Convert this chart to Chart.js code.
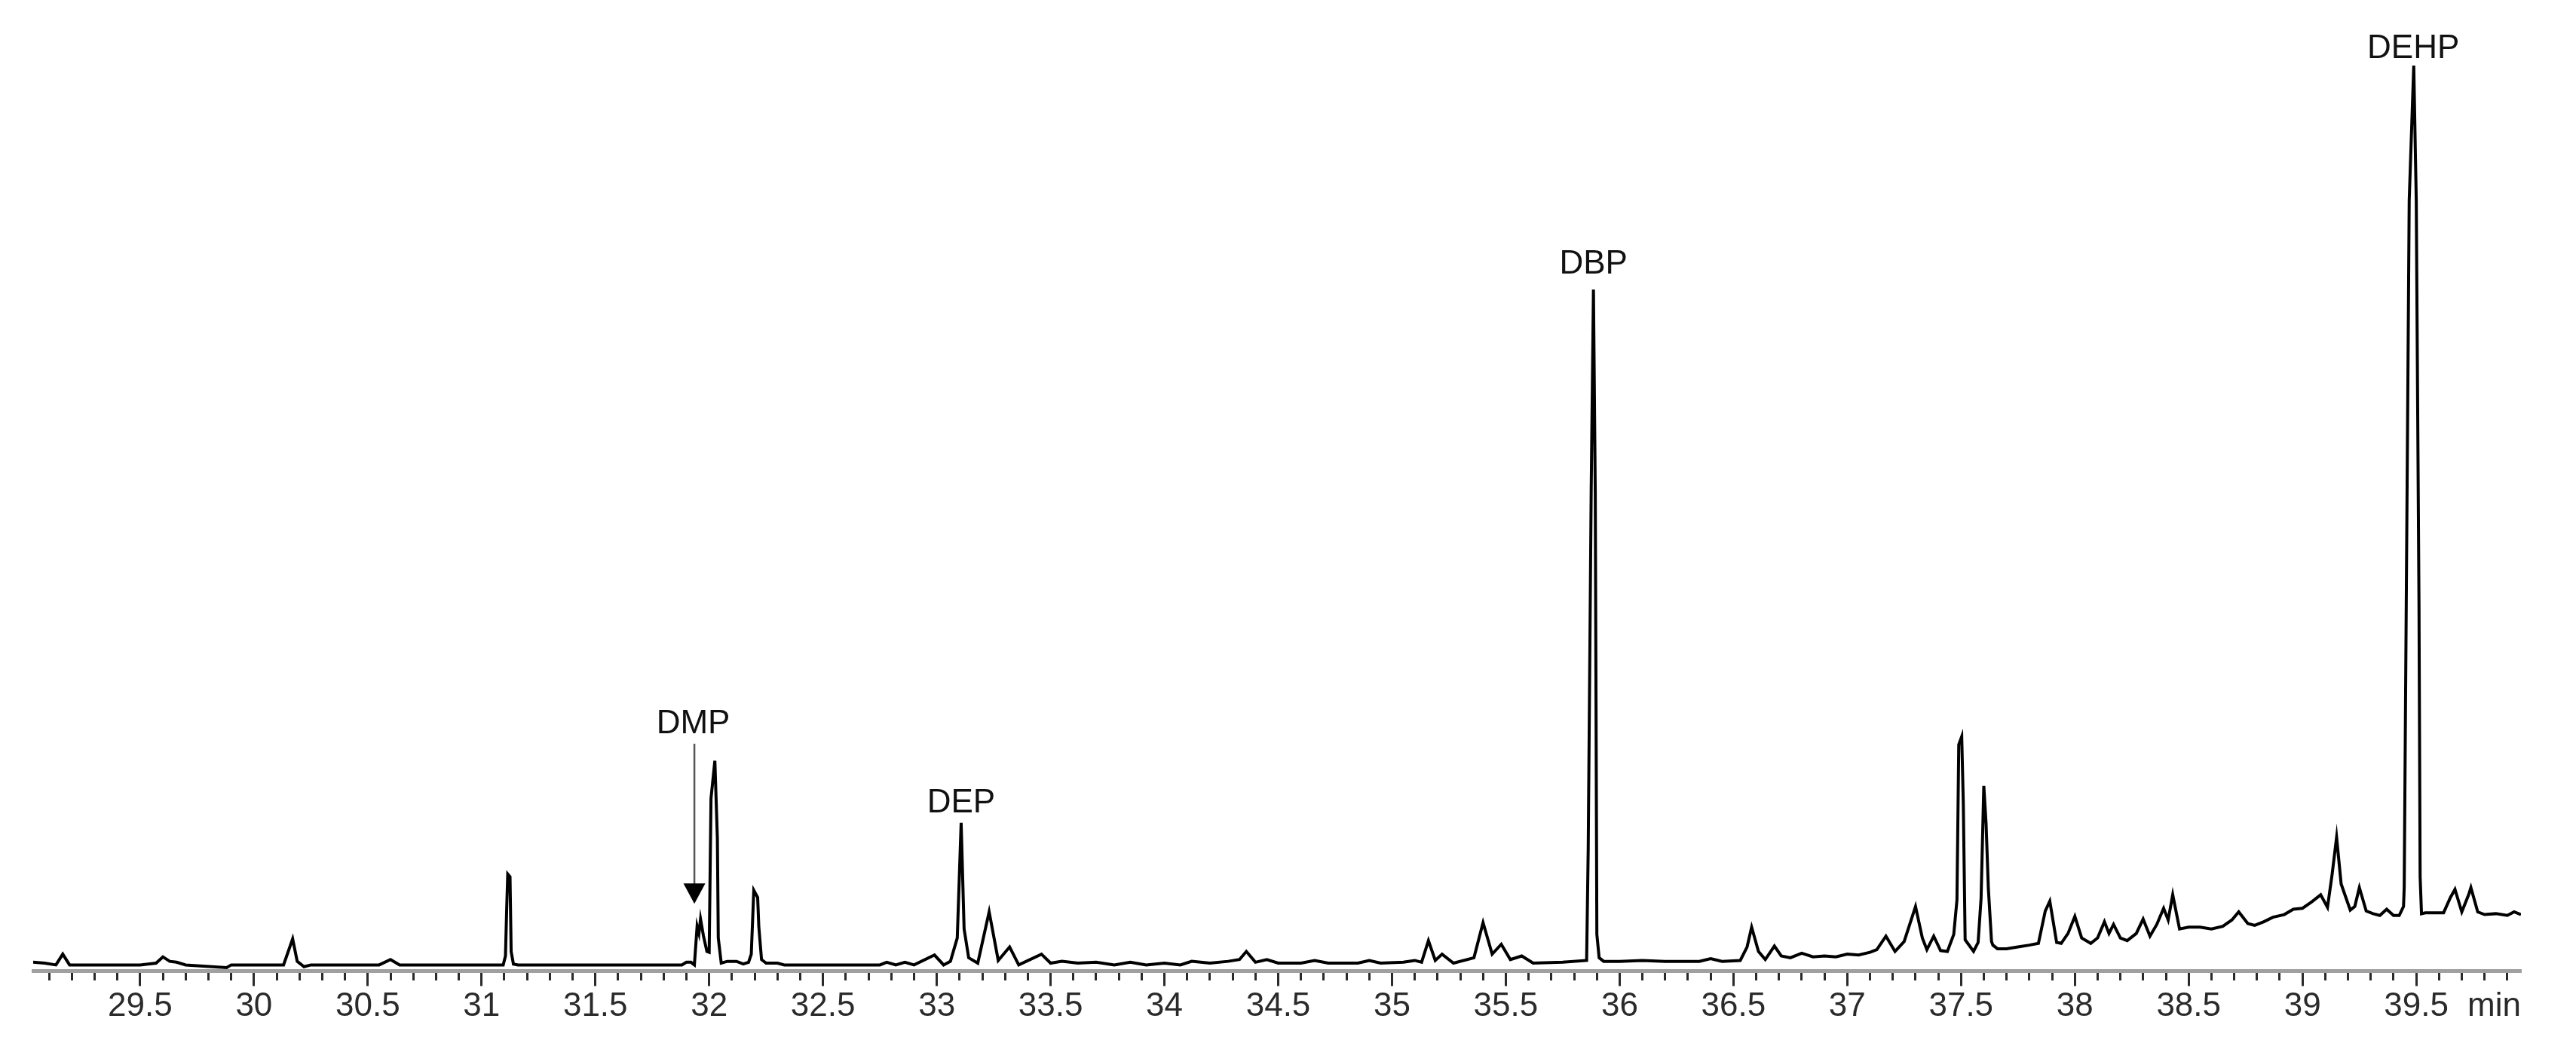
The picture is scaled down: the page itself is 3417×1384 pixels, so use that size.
<!DOCTYPE html>
<html>
<head>
<meta charset="utf-8">
<script src="https://cdn.jsdelivr.net/npm/chart.js@4/dist/chart.umd.min.js"></script>
<style>
  html, body { margin: 0; padding: 0; background: #ffffff; }
  #wrap { width: 3417px; height: 1384px; position: relative; }
  canvas { display: block; }
</style>
</head>
<body>
<div id="wrap"><canvas id="c" width="3417" height="1384"></canvas></div>
<script>
// Retention time (min) and relative abundance (% of DEHP peak)
const retentionTimes = [
  29.03, 29.08, 29.13, 29.16, 29.19, 29.50, 29.57, 29.60, 29.63, 29.66, 29.70, 29.88, 29.90, 29.93,
  30.13, 30.17, 30.19, 30.22, 30.25, 30.55, 30.60, 30.64,
  31.08, 31.095, 31.105, 31.11, 31.115, 31.125, 31.13, 31.14, 31.16,
  31.88, 31.90, 31.92, 31.935, 31.947, 31.955, 31.962, 31.975, 31.99, 32.00, 32.008, 32.025, 32.036,
  32.04, 32.053, 32.08, 32.12, 32.15, 32.173, 32.185, 32.196, 32.213, 32.218, 32.23, 32.25,
  32.30, 32.33, 32.50, 32.75, 32.78, 32.82, 32.86, 32.90,
  32.99, 33.03, 33.06, 33.09, 33.107, 33.12, 33.14, 33.18, 33.23, 33.27, 33.32, 33.36, 33.46, 33.50,
  33.55, 33.62, 33.70, 33.78, 33.85, 33.92, 34.00, 34.07, 34.12, 34.20, 34.28, 34.33, 34.36, 34.40,
  34.45, 34.50, 34.60, 34.66, 34.72, 34.85, 34.90, 34.95, 35.05, 35.10, 35.13,
  35.16, 35.19, 35.22, 35.27, 35.36, 35.40, 35.44, 35.48, 35.52, 35.57, 35.62, 35.75,
  35.855, 35.862, 35.875, 35.885, 35.893, 35.90, 35.91, 35.93, 36.00, 36.10, 36.20, 36.35, 36.40, 36.45,
  36.53, 36.56, 36.58, 36.61, 36.64, 36.68, 36.71, 36.75, 36.80, 36.85, 36.90, 36.95, 37.00,
  37.05, 37.10, 37.13, 37.17, 37.21, 37.25, 37.30, 37.33, 37.35, 37.38, 37.41, 37.44,
  37.468, 37.482, 37.49, 37.503, 37.51, 37.518, 37.555, 37.575, 37.588, 37.60, 37.61, 37.62, 37.634,
  37.64, 37.66, 37.70, 37.75, 37.80, 37.84, 37.87, 37.89,
  37.92, 37.94, 37.97, 38.00, 38.03, 38.07, 38.10, 38.13, 38.15, 38.17, 38.20, 38.23, 38.27,
  38.30, 38.33, 38.36, 38.39, 38.41, 38.43, 38.46, 38.50, 38.55, 38.60, 38.65, 38.69, 38.72,
  38.76, 38.79, 38.83, 38.87, 38.92, 38.96, 39.00, 39.04, 39.08, 39.11, 39.13, 39.15, 39.17,
  39.21, 39.23, 39.25, 39.28, 39.31, 39.34, 39.37, 39.40, 39.425, 39.444, 39.447, 39.456, 39.469,
  39.489, 39.50, 39.512, 39.517, 39.523, 39.54, 39.58, 39.62, 39.65, 39.67, 39.70, 39.73, 39.74,
  39.77, 39.80, 39.85, 39.90, 39.93, 39.96
];
const abundance = [
  0.3, 0.2, 0.0, 1.2, 0.0, 0.0, 0.2, 0.9, 0.4, 0.3, 0.0, -0.3, 0.0, 0.0,
  0.0, 2.9, 0.4, -0.2, 0.0, 0.0, 0.6, 0.0,
  0.0, 0.0, 1.0, 5.9, 10.1, 9.8, 1.5, 0.1, 0.0,
  0.0, 0.3, 0.3, 0.0, 4.3, 3.5, 5.1, 3.2, 1.5, 1.4, 18.5, 22.7, 14.1,
  3.0, 0.2, 0.4, 0.4, 0.1, 0.3, 1.2, 8.3, 7.5, 4.3, 0.6, 0.2,
  0.2, 0.0, 0.0, 0.0, 0.3, 0.0, 0.3, 0.0,
  1.1, 0.0, 0.4, 3.0, 15.8, 4.0, 0.8, 0.2, 5.9, 0.5, 2.0, 0.0, 1.2, 0.2,
  0.4, 0.2, 0.3, 0.0, 0.3, 0.0, 0.2, 0.0, 0.4, 0.2, 0.4, 0.6, 1.5, 0.3,
  0.6, 0.2, 0.2, 0.5, 0.2, 0.2, 0.5, 0.2, 0.3, 0.5, 0.3,
  2.7, 0.5, 1.2, 0.2, 0.8, 4.7, 1.2, 2.3, 0.6, 1.0, 0.2, 0.3,
  0.5, 12.9, 52.5, 75.1, 52.5, 3.4, 0.8, 0.4, 0.4, 0.5, 0.4, 0.4, 0.7, 0.4,
  0.5, 2.0, 4.2, 1.5, 0.6, 2.1, 1.0, 0.8, 1.3, 0.9, 1.0, 0.9, 1.2,
  1.1, 1.4, 1.7, 3.2, 1.5, 2.6, 6.5, 3.0, 1.7, 3.2, 1.6, 1.5,
  3.4, 7.2, 24.5, 25.4, 17.9, 2.8, 1.5, 2.5, 7.4, 19.9, 15.7, 8.5, 2.6,
  2.2, 1.8, 1.8, 2.0, 2.2, 2.4, 6.0, 7.1,
  2.5, 2.4, 3.5, 5.4, 3.0, 2.4, 3.0, 4.8, 3.5, 4.5, 3.0, 2.7, 3.5,
  5.1, 3.2, 4.5, 6.3, 5.0, 7.8, 4.0, 4.2, 4.2, 4.0, 4.3, 5.0, 5.9,
  4.6, 4.4, 4.8, 5.3, 5.6, 6.2, 6.3, 7.0, 7.8, 6.4, 10.0, 14.2, 9.0,
  6.1, 6.5, 8.6, 6.0, 5.7, 5.5, 6.2, 5.5, 5.5, 6.5, 8.6, 40.0, 85.0,
  100.0, 85.0, 40.0, 9.8, 5.7, 5.8, 5.8, 5.8, 7.5, 8.4, 5.9, 7.8, 8.6,
  5.9, 5.6, 5.7, 5.5, 5.9, 5.6
];

// Peak annotations
const peakNames  = ["DMP", "DEP", "DBP", "DEHP"];
const peakTimes  = [31.93, 33.107, 35.885, 39.487];
const peakLabelLevels = [25.8, 17.0, 76.9, 100.8];   // text baseline level (% scale)
// DMP arrow (time, top level, tip level)
const arrowTime = 31.935;
const arrowTop = 24.6;
const arrowTip = 6.8;

// Axis range and ticks
const xMin = 29.03, xMax = 39.96, minorStep = 0.1, majorStep = 0.5;
const yMin = -0.67, yMax = 103.94;
const axisUnit = "min";

const isMajor = v => Math.abs(v / majorStep - Math.round(v / majorStep)) < 1e-6;

const peakLabelPlugin = {
  id: 'peakLabels',
  afterDatasetsDraw(chart) {
    const {ctx, scales: {x, y}} = chart;
    ctx.save();
    ctx.fillStyle = '#111';
    ctx.font = '44px "Liberation Sans", Arial, sans-serif';
    ctx.textAlign = 'center';
    ctx.textBaseline = 'alphabetic';
    peakNames.forEach((n, i) => {
      ctx.fillText(n, x.getPixelForValue(peakTimes[i]), y.getPixelForValue(peakLabelLevels[i]));
    });
    // DMP arrow
    const ax = x.getPixelForValue(arrowTime);
    const yTop = y.getPixelForValue(arrowTop);
    const yTip = y.getPixelForValue(arrowTip);
    const head = 27;
    ctx.strokeStyle = '#555';
    ctx.lineWidth = 2.5;
    ctx.beginPath();
    ctx.moveTo(ax, yTop);
    ctx.lineTo(ax, yTip - head + 2);
    ctx.stroke();
    ctx.fillStyle = '#000';
    ctx.beginPath();
    ctx.moveTo(ax - head / 2 - 1, yTip - head);
    ctx.lineTo(ax + head / 2 + 1, yTip - head);
    ctx.lineTo(ax, yTip);
    ctx.closePath();
    ctx.fill();
    ctx.restore();
  }
};

new Chart(document.getElementById('c'), {
  type: 'line',
  data: {
    datasets: [{
      data: retentionTimes.map((t, i) => ({x: t, y: abundance[i]})),
      borderColor: '#000',
      borderWidth: 4,
      pointRadius: 0,
      tension: 0,
      fill: false,
      borderJoinStyle: 'miter'
    }]
  },
  options: {
    responsive: false,
    animation: false,
    devicePixelRatio: 1,
    layout: { padding: { top: 40, left: 44, right: 73, bottom: 0 } },
    plugins: { legend: { display: false }, tooltip: { enabled: false } },
    scales: {
      x: {
        type: 'linear',
        min: xMin,
        max: xMax,
        border: { display: true, color: '#a0a0a0', width: 5 },
        grid: {
          display: true,
          drawOnChartArea: false,
          drawTicks: true,
          tickLength: 20,
          tickWidth: 3,
          tickColor: '#2a2a2a',
          tickBorderDash: ctx => isMajor(ctx.tick.value) ? [] : [10, 60]
        },
        ticks: {
          stepSize: minorStep,
          includeBounds: false,
          autoSkip: false,
          maxRotation: 0,
          minRotation: 0,
          padding: 0.6,
          color: '#2a2a2a',
          font: { family: '"Liberation Sans", Arial, sans-serif', size: 44 },
          callback: v => isMajor(v) ? String(Math.round(v * 10) / 10) : ''
        },
        title: {
          display: true,
          text: axisUnit,
          align: 'end',
          color: '#2a2a2a',
          font: { family: '"Liberation Sans", Arial, sans-serif', size: 44 },
          padding: { top: -52.8, bottom: 21.6 }
        }
      },
      y: {
        display: false,
        min: yMin,
        max: yMax
      }
    }
  },
  plugins: [peakLabelPlugin]
});
</script>
</body>
</html>
